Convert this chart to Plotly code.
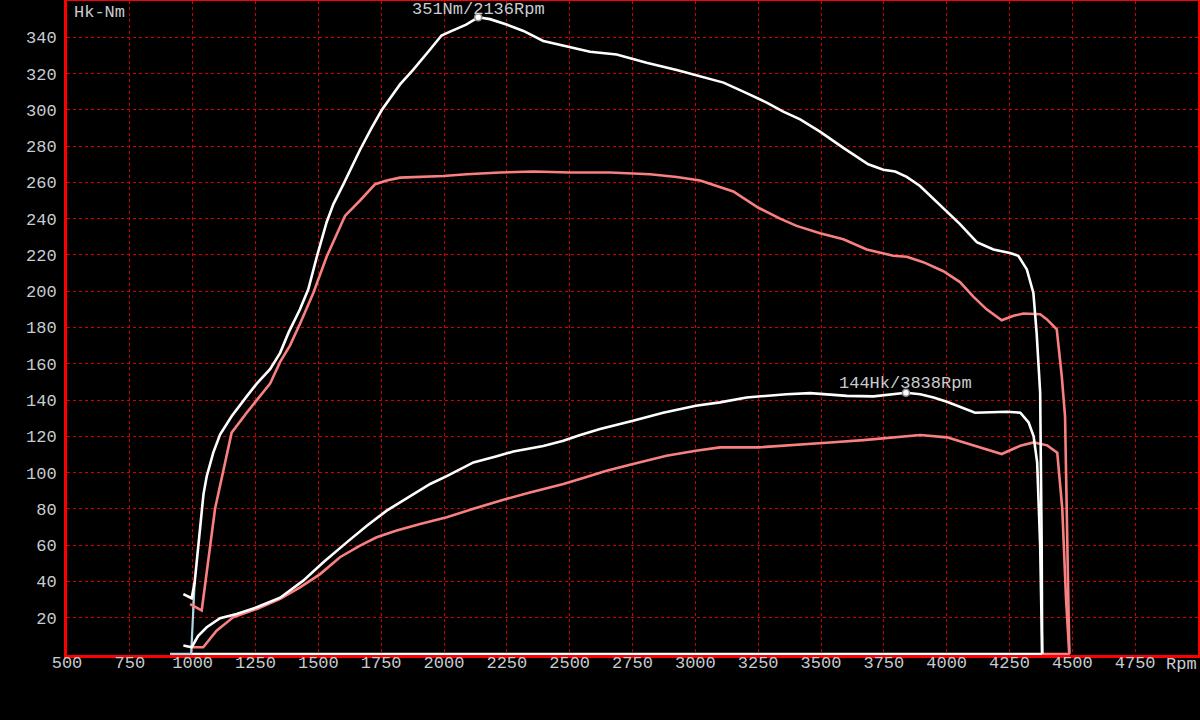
import plotly.graph_objects as go

# ---- data ----
tq_white_rpm = [963, 996, 1008, 1043, 1056, 1082, 1109, 1155, 1215, 1255, 1308, 1348, 1381, 1427,
                1460, 1494, 1533, 1560, 1600, 1666, 1712, 1753, 1825, 1877, 1943, 1990, 2022, 2088,
                2136, 2183, 2249, 2316, 2395, 2488, 2581, 2687, 2806, 2926, 3019, 3112, 3191, 3284,
                3350, 3417, 3496, 3589, 3688, 3748, 3795, 3841, 3894, 3987, 4053, 4120, 4186, 4252,
                4285, 4319, 4345, 4358, 4372, 4378, 4380]
tq_white_nm = [33, 30.7, 39.5, 88, 98, 111, 121, 131, 142, 149, 157, 166, 177, 190,
               201, 219, 238, 248, 259, 278, 290, 300, 314, 322, 333, 341, 343, 347,
               351, 350, 347, 343.5, 338, 335, 332, 330.5, 326, 322, 318.5, 315, 310, 304,
               299, 294.7, 288, 279, 270, 267, 266, 263, 258, 246, 237, 227, 223, 221,
               219.5, 212, 199, 177, 144, 60, 0]

tq_pink_rpm = [990, 1036, 1089, 1155, 1215, 1268, 1308, 1348, 1387, 1427, 1480, 1533, 1573, 1606,
               1666, 1726, 1772, 1825, 1997, 2090, 2223, 2355, 2501, 2661, 2820, 2926, 3019, 3085,
               3151, 3251, 3337, 3403, 3496, 3589, 3682, 3788, 3841, 3907, 3987, 4053, 4106, 4159,
               4219, 4266, 4305, 4372, 4398, 4438, 4445, 4458, 4471, 4480, 4488]
tq_pink_nm = [27.5, 24, 80, 122, 133, 142, 149, 161, 170, 182, 199, 219, 231, 241.5,
              250, 259, 261, 262.6, 263.5, 264.5, 265.4, 266, 265.4, 265.4, 264.5, 263, 261, 258,
              255, 246, 240, 236, 232, 228.6, 223, 219.5, 219, 216, 211, 205, 197, 190,
              184, 186.4, 187.7, 187.3, 184.6, 179, 170, 153, 131, 60, 0]

pw_white_rpm = [963, 996, 1022, 1056, 1109, 1175, 1255, 1348, 1440, 1520, 1613, 1693, 1772, 1865,
                1945, 2011, 2117, 2210, 2276, 2395, 2475, 2539, 2621, 2752, 2872, 3002, 3098, 3204,
                3363, 3457, 3603, 3709, 3838, 3895, 3948, 4001, 4041, 4113, 4240, 4293, 4326, 4346,
                4360, 4372, 4380]
pw_white_hk = [4.6, 3.7, 10, 14.7, 19.7, 22, 25.7, 31, 40.4, 50.5, 61.5, 70.7, 79, 87,
               93.7, 98, 105.6, 109, 111.6, 114.6, 117.5, 120.6, 124, 128.5, 133, 136.8, 138.7, 141.4,
               143.2, 143.8, 142.3, 142, 144, 143.2, 141.4, 139, 136.8, 133, 133.5, 133, 127.7, 120,
               105.6, 60, 0]

pw_pink_rpm = [1000, 1042, 1095, 1161, 1255, 1348, 1427, 1507, 1586, 1666, 1732, 1812, 1905, 2011,
               2117, 2223, 2342, 2475, 2541, 2647, 2752, 2885, 3002, 3098, 3251, 3403, 3536, 3669,
               3801, 3895, 4001, 4106, 4219, 4293, 4346, 4400, 4440, 4460, 4475, 4488]
pw_pink_hk = [3.7, 3.7, 12.8, 20.2, 24.8, 30.3, 36.7, 44, 53.3, 59.7, 64.3, 68, 71.6, 75.3,
              80, 84.5, 89, 93.7, 96.5, 101, 104.7, 109.3, 112, 113.9, 113.9, 115.2, 116.6, 117.9,
              119.4, 120.7, 119.4, 114.8, 110.2, 114.8, 116.6, 115, 111, 80, 30, 0]

blue_rpm = [910, 994, 1008]
blue_val = [0, 0, 40]

base_white_rpm = [996, 4380]
base_white_val = [0, 0]
base_pink_rpm = [4380, 4490]
base_pink_val = [0, 0]

peak_rpm = [2136, 3838]
peak_val = [351, 144]
peak_labels = ["351Nm/2136Rpm", "144Hk/3838Rpm"]

x_ticks = [500, 750, 1000, 1250, 1500, 1750, 2000, 2250, 2500, 2750, 3000, 3250, 3500,
           3750, 4000, 4250, 4500, 4750]
y_ticks = [20, 40, 60, 80, 100, 120, 140, 160, 180, 200, 220, 240, 260, 280, 300, 320, 340]

# ---- styling ----
WHITE = "#ffffff"
PINK = "#f88080"
BLUE = "#add8e6"
TXT = "#c8ccd0"
FONT = "Liberation Mono, DejaVu Sans Mono, monospace"
FS = 17
PLOT_H = 654  # plot-area height in px

fig = go.Figure()

def line(x, y, color, w=2.6):
    fig.add_trace(go.Scatter(x=x, y=y, mode="lines", line=dict(color=color, width=w),
                             hoverinfo="skip", showlegend=False))

line(base_white_rpm, base_white_val, WHITE, 2.4)
line(base_pink_rpm, base_pink_val, PINK, 2.4)
line(blue_rpm, blue_val, BLUE, 2.2)
line(pw_pink_rpm, pw_pink_hk, PINK)
line(tq_pink_rpm, tq_pink_nm, PINK)
line(pw_white_rpm, pw_white_hk, WHITE)
line(tq_white_rpm, tq_white_nm, WHITE)

fig.add_trace(go.Scatter(x=peak_rpm, y=peak_val, mode="markers",
                         marker=dict(size=7, color=WHITE, line=dict(color="#909090", width=1.5)),
                         hoverinfo="skip", showlegend=False, cliponaxis=False))

# invisible trace so the label-carrying x axis is rendered
fig.add_trace(go.Scatter(x=[x_ticks[0]], y=[y_ticks[0]], xaxis="x2", mode="markers",
                         marker=dict(size=1, opacity=0), hoverinfo="skip", showlegend=False))

fig.add_annotation(x=peak_rpm[0], y=peak_val[0], text=peak_labels[0], showarrow=False,
                   xanchor="center", yanchor="bottom", yshift=-4,
                   font=dict(family=FONT, size=FS, color=TXT))
fig.add_annotation(x=peak_rpm[1], y=peak_val[1], text=peak_labels[1], showarrow=False,
                   xanchor="center", yanchor="bottom", yshift=-2,
                   font=dict(family=FONT, size=FS, color=TXT))

fig.add_annotation(xref="paper", yref="paper", x=0, y=1, xanchor="left", yanchor="top",
                   xshift=5, yshift=0, text="Hk-Nm", showarrow=False,
                   font=dict(family=FONT, size=FS, color=TXT))
fig.add_annotation(xref="paper", yref="paper", x=1, y=0, xanchor="right", yanchor="top",
                   xshift=1, yshift=2, text="Rpm", showarrow=False,
                   font=dict(family=FONT, size=FS, color=TXT))

fig.update_layout(
    width=1200, height=720,
    margin=dict(l=67, r=2, t=1, b=65, autoexpand=False),
    paper_bgcolor="#000000", plot_bgcolor="#000000",
    showlegend=False,
    font=dict(family=FONT, size=FS, color=TXT),
    xaxis2=dict(overlaying="x", matches="x", anchor="free", position=5 / PLOT_H, side="bottom",
                tickvals=x_ticks, ticktext=[str(v) for v in x_ticks], showgrid=False,
                zeroline=False, showline=False, ticks="", ticklabelstandoff=0, automargin=False,
                tickfont=dict(family=FONT, size=FS, color=TXT)),
)
fig.layout.xaxis.update(range=[500, 5000], tickvals=x_ticks, showticklabels=False,
                        showgrid=True, gridcolor="#d00000", gridwidth=1, griddash="3px,3px",
                        zeroline=False, showline=True, linecolor="#ff0000", linewidth=3, mirror=True,
                        ticks="", layer="below traces", automargin=False)
fig.update_yaxes(range=[-0.6, 360], tickvals=y_ticks, ticktext=[str(v) for v in y_ticks],
                 showgrid=True, gridcolor="#d00000", gridwidth=1, griddash="3px,3px",
                 zeroline=False, showline=True, linecolor="#ff0000", linewidth=3, mirror=True,
                 ticks="", ticklabelstandoff=4, layer="below traces", automargin=False,
                 tickfont=dict(family=FONT, size=FS, color=TXT))

fig.write_html("out.html", config={"displayModeBar": False},
               post_script="document.body.style.margin='0';document.body.style.overflow='hidden';")
